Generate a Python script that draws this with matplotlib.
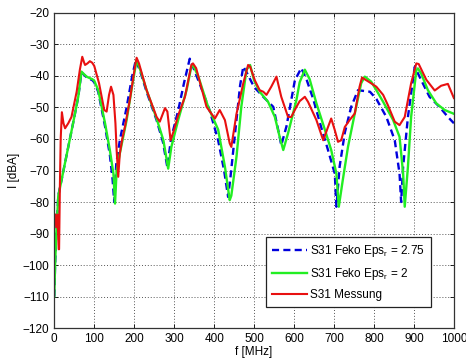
import numpy as np
import matplotlib.pyplot as plt

plt.rcParams['font.family'] = ['Liberation Sans', 'DejaVu Sans']
plt.rcParams['mathtext.fontset'] = 'custom'
plt.rcParams['mathtext.rm'] = 'Liberation Sans'

# Feko simulation, Eps_r = 2.75
f_eps275 = [0, 2, 5, 10, 15, 23, 35, 47, 60, 68, 75, 81, 89, 95, 100, 110, 127, 139, 146, 150,
            155, 164, 181, 195, 204, 215, 231, 256, 272, 283, 292, 310, 325, 339, 350, 364, 389, 410, 425, 435,
            441, 455, 465, 473, 482, 500, 523, 548, 564, 568, 581, 602, 618, 631, 648, 668, 685, 702, 706, 714,
            727, 743, 760, 790, 806, 831, 852, 864, 868, 873, 885, 902, 914, 939, 964, 985, 1000]
s31_eps275 = [-110, -100, -90, -78, -75, -70, -62.5, -55, -46.6, -38.8, -39.7, -40.4, -41, -41.3, -42, -45, -56, -65, -73, -80,
              -68, -60.4, -50, -40, -35, -38.5, -45, -54, -61, -69, -60, -51, -42, -34.5, -38, -42.5, -51, -60.4, -70, -78.4,
              -72, -55, -43, -37, -39, -43.5, -46.6, -49.8, -59.3, -62, -56, -41.4, -37.5, -41, -47.3, -56.3, -63.5, -71, -81.5, -68.8,
              -58, -49.8, -44.5, -45, -47.3, -53, -60.4, -71, -80, -68.8, -53, -37.1, -40.2, -46.6, -49.8, -53, -55]

# Feko simulation, Eps_r = 2
f_eps2 = [0, 2, 5, 10, 15, 23, 35, 47, 60, 68, 75, 81, 89, 95, 100, 110, 127, 139, 148, 152,
          156, 164, 181, 195, 206, 215, 231, 256, 273, 285, 293, 310, 331, 343, 347, 360, 385, 410, 427, 439,
          443, 456, 468, 481, 490, 500, 514, 535, 552, 564, 573, 585, 606, 614, 627, 639, 656, 677, 693, 706,
          712, 722, 735, 752, 768, 777, 793, 806, 823, 848, 864, 873, 877, 885, 893, 906, 910, 918, 935, 956,
          977, 1000]
s31_eps2 = [-110, -100, -90, -78, -75, -70, -62.5, -55, -46.6, -38.6, -39.5, -40.2, -40.7, -41, -41.5, -44.5, -55, -63.5, -71, -80.5,
            -70, -64.6, -54, -43, -35, -38, -44.5, -53.5, -60.4, -69.4, -62.5, -54, -44.5, -37, -36.5, -40, -49.8, -57, -68.8, -79.4,
            -78, -65.6, -49.8, -38, -36.5, -41.4, -45, -48.2, -53, -59.3, -63.5, -58.2, -47.6, -42, -38, -41, -48.7, -57, -63.5, -71,
            -81.5, -73, -62.5, -51.9, -42.3, -40.2, -41.8, -44.5, -48.2, -54, -59.3, -71, -81.5, -68.8, -53, -38.1, -37.6, -39.2, -44.5, -48.7,
            -50.8, -52]

# measurement
f_mess = [2, 5, 8, 11, 12, 14, 16, 19, 23, 27, 35, 43, 56, 64, 70, 74, 77, 83, 89, 95,
          100, 112, 125, 131, 137, 142, 148, 153, 156, 160, 164, 170, 177, 189, 202, 206, 212, 231, 256, 264,
          277, 283, 291, 300, 310, 327, 343, 347, 355, 381, 402, 414, 427, 439, 443, 456, 473, 485, 490, 502,
          514, 523, 531, 543, 556, 568, 585, 593, 606, 614, 627, 635, 656, 673, 685, 693, 702, 710, 718, 727,
          739, 752, 764, 770, 789, 806, 823, 835, 852, 864, 877, 893, 906, 912, 931, 952, 968, 985, 1000]
s31_mess = [-84, -88, -84, -95, -95, -75, -60, -51.5, -55, -56.6, -55, -53, -45, -38, -33.9, -35.5, -36.5, -36, -35.3, -35.8,
            -36.8, -42.3, -50.8, -51.3, -46, -43.4, -46, -55, -63.5, -72, -64.6, -60, -56, -47.6, -37, -34.2, -36, -44.5, -53, -54.5,
            -50.2, -51.3, -60.4, -57, -52.5, -46.6, -36.5, -36, -37.5, -49.8, -53.5, -50.8, -54, -61.4, -62.5, -52, -42.3, -36.5, -37, -41.4,
            -44.5, -45, -46, -43.4, -40.2, -46.6, -53, -53, -49.8, -48, -46.6, -48.2, -54, -60.4, -56.2, -53.5, -57.2, -60.9, -60.4, -56.2,
            -54, -51.9, -43.4, -40.5, -42, -43.4, -46, -49.3, -54.5, -55.6, -53, -42.3, -36, -36.2, -41.2, -44.6, -43.1, -42.5, -47]

fig = plt.figure(figsize=(4.66, 3.61), dpi=100)
ax = fig.add_axes([0.1165, 0.0914, 0.8575, 0.8726])

ax.plot(f_eps275, s31_eps275, color='#0000dd', linestyle=(0, (3, 1.8)), linewidth=1.7,
        label=r'S31 Feko Eps$_\mathrm{r}$ = 2.75')
ax.plot(f_eps2, s31_eps2, color='#22ee22', linewidth=1.7, label=r'S31 Feko Eps$_\mathrm{r}$ = 2')
ax.plot(f_mess, s31_mess, color='#e81010', linewidth=1.5, label='S31 Messung')

ax.set_xlim(0, 1000)
ax.set_ylim(-120, -20)
ax.set_xticks(np.arange(0, 1001, 100))
ax.set_yticks(np.arange(-120, -19, 10))
ax.grid(True, color='#555555', linestyle=(0, (1, 2)), linewidth=0.7)
ax.tick_params(direction='in', top=True, right=True, labelsize=8.5, length=3, width=0.6)
for s in ax.spines.values():
    s.set_color('#333333')
    s.set_linewidth(0.9)

ax.set_xlabel('f [MHz]', fontsize=8.5, labelpad=1)
ax.set_ylabel('I [dBA]', fontsize=8.5, labelpad=2)

leg = ax.legend(loc='lower right', bbox_to_anchor=(0.957, 0.048), fontsize=8.5,
                fancybox=False, framealpha=1, edgecolor='#222222', handlelength=2.9,
                borderpad=0.5, labelspacing=0.6, handletextpad=0.3)
leg.get_frame().set_linewidth(0.9)

fig.savefig('out.png', dpi=100)
